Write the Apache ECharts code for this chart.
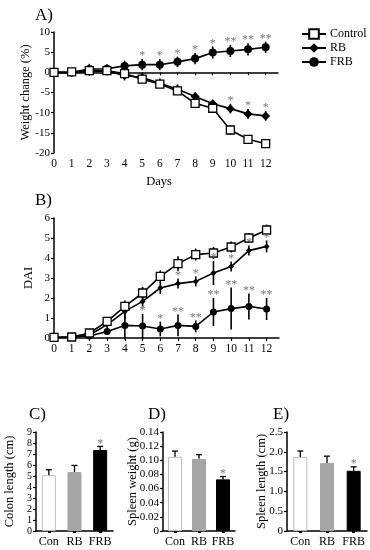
<!DOCTYPE html>
<html><head><meta charset="utf-8">
<script src="https://cdn.jsdelivr.net/npm/echarts@6/dist/echarts.min.js"></script>
<style>html,body{margin:0;padding:0;background:#fff}#c{width:370px;height:550px}</style>
</head><body><div id="c"></div>
<script>
const days = [0,1,2,3,4,5,6,7,8,9,10,11,12];
const dayTicks = [0,1,2,3,4,5,6,7,8,9,10,11,12];
const seriesNames = ['Control','RB','FRB'];

// Panel A: weight change (%)
const wControl = [0, 0.1, 0.4, 0.4, -0.3, -1.7, -2.9, -4.6, -7.7, -8.9, -14.3, -16.6, -17.7];
const wControlErr = [0.5, 0.7, 0.5, 0.5, 0.6, 0.8, 0.8, 0.8, 0.9, 0.7, 1.2, 0.6, 0.7];
const wRB = [0, -0.1, 0.2, 0.3, -0.8, -1.3, -2.7, -4.2, -6.0, -7.8, -9.0, -10.3, -10.8];
const wRBErr = [0.5, 0.8, 0.8, 0.8, 1.2, 1.0, 1.2, 1.2, 1.0, 1.0, 1.2, 1.2, 1.2];
const wFRB = [0, 0, 0.8, 0.9, 1.6, 1.9, 1.9, 2.6, 3.4, 4.9, 5.3, 5.7, 6.2];
const wFRBErr = [0.5, 1.0, 1.3, 1.1, 1.3, 1.4, 1.4, 1.3, 1.4, 1.5, 1.5, 1.5, 1.4];
const wRBStars = ['', '', '', '', '', '', '', '', '', '', '*', '*', '*'];
const wFRBStars = ['', '', '', '', '', '*', '*', '*', '*', '*', '**', '**', '**'];
const wTicks = [-20, -15, -10, -5, 0, 5, 10];

// Panel B: DAI
const dControl = [0.03, 0.05, 0.25, 0.83, 1.58, 2.25, 3.08, 3.72, 4.17, 4.25, 4.55, 5.0, 5.4];
const dControlErr = [0.05, 0.05, 0.08, 0.2, 0.3, 0.3, 0.3, 0.37, 0.3, 0.3, 0.27, 0.25, 0.27];
const dRB = [0.02, 0.05, 0.15, 0.67, 1.33, 1.83, 2.5, 2.72, 2.83, 3.25, 3.57, 4.37, 4.58];
const dRBErr = [0.05, 0.05, 0.08, 0.3, 0.4, 0.3, 0.3, 0.25, 0.25, 0.6, 0.25, 0.25, 0.3];
const dFRB = [0.02, 0.05, 0.1, 0.33, 0.63, 0.6, 0.45, 0.63, 0.58, 1.3, 1.47, 1.58, 1.45];
const dFRBErr = [0.05, 0.05, 0.1, 0.15, 0.7, 0.6, 0.37, 0.54, 0.3, 0.7, 1.05, 0.65, 0.55];
const dRBStars = ['', '', '', '', '', '', '', '*', '*', '*', '*', '*', '*'];
const dFRBStars = ['', '', '', '', '', '*', '*', '**', '**', '**', '**', '**', '**'];

// Panels C, D, E
const groups = ['Con', 'RB', 'FRB'];
const colonLen = [5.07, 5.36, 7.36];
const colonErr = [0.5, 0.6, 0.33];
const colonStars = ['', '', '*'];
const spleenW = [0.105, 0.102, 0.073];
const spleenWErr = [0.008, 0.006, 0.004];
const spleenWStars = ['', '', '*'];
const spleenL = [1.87, 1.72, 1.52];
const spleenLErr = [0.15, 0.17, 0.1];
const spleenLStars = ['', '', '*'];
const barColors = ['#ffffff', '#a6a6a6', '#000000'];
const barBorders = ['#bdbdbd', '#a6a6a6', '#000000'];

const FONT = 'Liberation Serif';
const chart = echarts.init(document.getElementById('c'));

function pairs(xs, ys){ return xs.map((x,i)=>[x, ys[i]]); }
function errData(xs, ys, es){ return xs.map((x,i)=>[x, ys[i], es[i]]); }
function errLine(params, api){
  const x = api.value(0), y = api.value(1), e = api.value(2);
  const p1 = api.coord([x, y - e]), p2 = api.coord([x, y + e]);
  return {type:'line', shape:{x1:p1[0], y1:p1[1], x2:p2[0], y2:p2[1]}, style:{stroke:'#000', lineWidth:1.6}};
}
function barErr(params, api){
  const x = api.value(0), y = api.value(1), e = api.value(2);
  const p1 = api.coord([x, y]), p2 = api.coord([x, y + e]);
  return {type:'group', children:[
    {type:'line', shape:{x1:p1[0], y1:p1[1], x2:p2[0], y2:p2[1]}, style:{stroke:'#000', lineWidth:1.3}},
    {type:'line', shape:{x1:p2[0]-3, y1:p2[1], x2:p2[0]+3, y2:p2[1]}, style:{stroke:'#000', lineWidth:1.3}}
  ]};
}
function starSeries(xIdx, yIdx, xs, ys, es, stars){
  const list = [];
  xs.forEach((x,i)=>{ if(stars[i]) list.push({value:[x, ys[i] + es[i]], txt:stars[i]}); });
  return {type:'custom', xAxisIndex:xIdx, yAxisIndex:yIdx, data:list.map(d=>d.value), z:10,
    renderItem:(params, api)=>{
      const p = api.coord([api.value(0), api.value(1)]);
      return {type:'text', x:p[0], y:p[1]+3, style:{text:list[params.dataIndex].txt, textAlign:'center', textVerticalAlign:'bottom', fill:'#777', font:'12px "Liberation Serif"'}};
    }};
}
function lineSeries(name, xi, yi, xs, ys, sym, size, fill){
  return {type:'line', name, xAxisIndex:xi, yAxisIndex:yi, data:pairs(xs, ys), symbol:sym, symbolSize:size,
    showAllSymbol:true, lineStyle:{color:'#000', width:1.6}, itemStyle:{color:fill, borderColor:'#000', borderWidth: fill==='#fff'?1.3:0},
    z: name==='Control'?4:3, animation:false};
}
function errSeries(xi, yi, xs, ys, es){
  return {type:'custom', xAxisIndex:xi, yAxisIndex:yi, data:errData(xs, ys, es), renderItem:errLine, z:2, animation:false};
}

const axisCommon = {
  axisLine:{show:true, lineStyle:{color:'#000', width:1.5}},
  axisTick:{show:true, inside:false, length:3, lineStyle:{color:'#000', width:1.2}},
  axisLabel:{color:'#000', fontFamily:FONT, fontSize:11, margin:4, showMaxLabel:true, showMinLabel:true},
  splitLine:{show:false}
};
function xDays(gi, withName){
  return Object.assign({}, axisCommon, {type:'value', gridIndex:gi, min:0, max:12.7, interval:1,
    axisTick:Object.assign({}, axisCommon.axisTick, {customValues:dayTicks}),
    axisLabel:Object.assign({}, axisCommon.axisLabel, {customValues:dayTicks, margin:5, fontSize:11.5}),
    name: withName ? 'Days' : '', nameLocation:'middle', nameGap:22, nameMoveOverlap:false,
    nameTextStyle:{color:'#000', fontFamily:FONT, fontSize:12.5, padding:[0,14,0,0]}});
}
function yVal(gi, min, max, interval, name, nameGap, fmt, fs){
  return Object.assign({}, axisCommon, {type:'value', gridIndex:gi, min, max, interval,
    axisLabel:Object.assign({}, axisCommon.axisLabel, {formatter:fmt, margin:4, fontSize:fs||11, lineHeight:fs||11}),
    name, nameLocation:'middle', nameGap, nameMoveOverlap:false, nameTextStyle:{color:'#000', fontFamily:FONT, fontSize:12.5}});
}
function xCat(gi){
  return Object.assign({}, axisCommon, {type:'category', gridIndex:gi, data:groups,
    axisTick:Object.assign({}, axisCommon.axisTick, {alignWithLabel:true, length:2, lineStyle:{color:'#000', width:3}}),
    axisLabel:Object.assign({}, axisCommon.axisLabel, {fontSize:12, margin:5, interval:0})});
}
function barSeries(xi, yi, vals){
  return {type:'bar', xAxisIndex:xi, yAxisIndex:yi, barWidth:14,
    data: vals.map((v,i)=>({value:v, itemStyle:{color:barColors[i], borderColor:barBorders[i], borderWidth:1}})), animation:false};
}
function barErrSeries(xi, yi, vals, errs){
  return {type:'custom', xAxisIndex:xi, yAxisIndex:yi, data: groups.map((g,i)=>[i, vals[i], errs[i]]), renderItem:barErr, z:5, animation:false};
}
function barStar(xi, yi, vals, errs, stars){
  return starSeries(xi, yi, [0,1,2], vals, errs, stars);
}

const titleStyle = {color:'#000', fontFamily:FONT, fontSize:17, fontWeight:'normal'};
const option = {
  animation:false,
  textStyle:{fontFamily:FONT},
  title:[
    {text:'A)', left:30, top:2, textStyle:titleStyle},
    {text:'B)', left:30, top:187, textStyle:titleStyle},
    {text:'C)', left:24, top:401, textStyle:titleStyle},
    {text:'D)', left:143, top:401, textStyle:titleStyle},
    {text:'E)', left:268, top:401, textStyle:titleStyle}
  ],
  legend:{orient:'vertical', left:301, top:28, itemGap:2, itemWidth:24, itemHeight:12, data:seriesNames, padding:0,
    textStyle:{color:'#000', fontFamily:FONT, fontSize:12, padding:[0,0,0,-1]}},
  grid:[
    {left:54, top:32, width:224, height:121},
    {left:54, top:218, width:225, height:120},
    {left:36, top:432, width:77, height:99},
    {left:163, top:432, width:72, height:99},
    {left:287, top:432, width:80, height:99}
  ],
  xAxis:[ xDays(0, true), xDays(1, false), xCat(2), xCat(3), xCat(4) ],
  yAxis:[
    Object.assign(yVal(0, -20, 10, 5, 'Weight change (%)', 22), {axisLabel:Object.assign({}, axisCommon.axisLabel, {customValues:wTicks, margin:4})}),
    yVal(1, 0, 6, 1, 'DAI', 19),
    yVal(2, 0, 9, 1, 'Colon length (cm)', 20, undefined, 10),
    yVal(3, 0, 0.14, 0.02, 'Spleen weight (g)', 24, v=> v===0 ? '0' : v.toFixed(2)),
    yVal(4, 0, 2.5, 0.5, 'Spleen length (cm)', 19, v=> v===0 ? '0' : v.toFixed(1))
  ],
  series:[
    errSeries(0,0,days,wControl,wControlErr),
    errSeries(0,0,days,wRB,wRBErr),
    errSeries(0,0,days,wFRB,wFRBErr),
    lineSeries('RB',0,0,days,wRB,'diamond',9,'#000'),
    lineSeries('FRB',0,0,days,wFRB,'circle',8,'#000'),
    lineSeries('Control',0,0,days,wControl,'rect',8,'#fff'),
    starSeries(0,0,days,wRB,wRBErr,wRBStars),
    starSeries(0,0,days,wFRB,wFRBErr,wFRBStars),

    errSeries(1,1,days,dControl,dControlErr),
    errSeries(1,1,days,dRB,dRBErr),
    errSeries(1,1,days,dFRB,dFRBErr),
    lineSeries('RB',1,1,days,dRB,'diamond',6,'#000'),
    lineSeries('FRB',1,1,days,dFRB,'circle',7,'#000'),
    lineSeries('Control',1,1,days,dControl,'rect',8,'#fff'),
    starSeries(1,1,days,dRB,dRBErr,dRBStars),
    starSeries(1,1,days,dFRB,dFRBErr,dFRBStars),

    barSeries(2,2,colonLen), barErrSeries(2,2,colonLen,colonErr), barStar(2,2,colonLen,colonErr,colonStars),
    barSeries(3,3,spleenW), barErrSeries(3,3,spleenW,spleenWErr), barStar(3,3,spleenW,spleenWErr,spleenWStars),
    barSeries(4,4,spleenL), barErrSeries(4,4,spleenL,spleenLErr), barStar(4,4,spleenL,spleenLErr,spleenLStars)
  ]
};
chart.setOption(option);
</script></body></html>
